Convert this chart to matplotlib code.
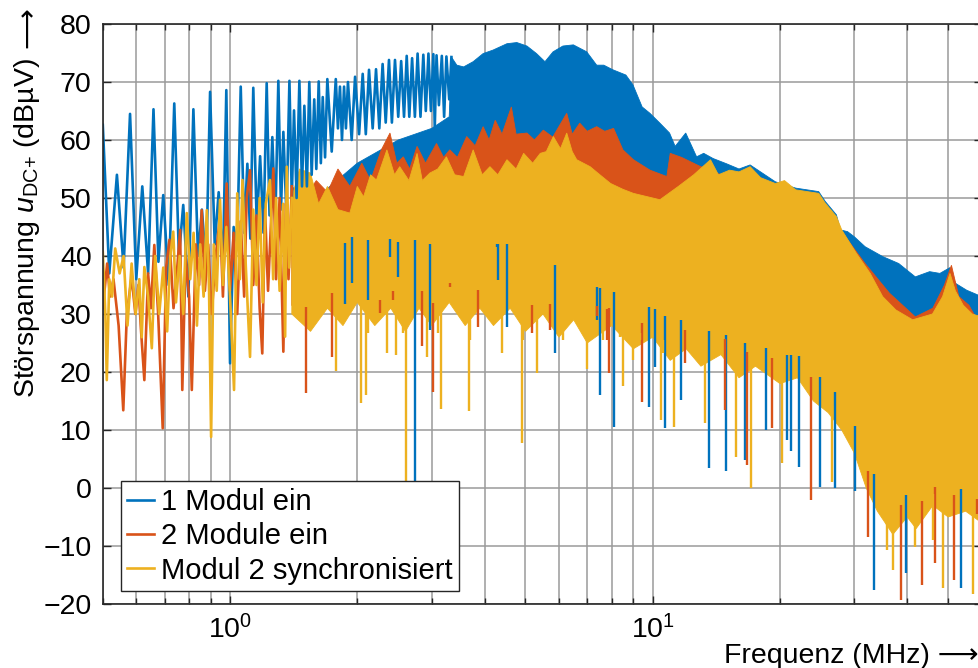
import numpy as np
import matplotlib.pyplot as plt
from matplotlib.ticker import LogLocator, NullFormatter

plt.rcParams['font.family'] = ['Liberation Sans', 'DejaVu Sans']
plt.rcParams['mathtext.fontset'] = 'custom'
plt.rcParams['mathtext.rm'] = 'Liberation Sans'
plt.rcParams['mathtext.it'] = 'Liberation Sans:italic'
plt.rcParams['mathtext.bf'] = 'Liberation Sans:bold'

labels = ['1 Modul ein', '2 Module ein', 'Modul 2 synchronisiert']
colors = ['#0072BD', '#D95319', '#EDB120']

# ---- low frequency part: single peaks and troughs (MHz, dBuV)
f_blue_low = [0.500, 0.518, 0.540, 0.560, 0.580, 0.600, 0.620, 0.640, 0.659, 0.677,
              0.695, 0.716, 0.738, 0.757, 0.775, 0.797, 0.819, 0.840, 0.858, 0.878,
              0.897, 0.920, 0.940, 0.962, 0.980, 1.000, 1.020, 1.040, 1.060, 1.080,
              1.099, 1.117, 1.135, 1.157, 1.178, 1.200, 1.221, 1.240, 1.259, 1.280,
              1.301, 1.320, 1.337, 1.360, 1.382, 1.400, 1.417, 1.437, 1.459, 1.480,
              1.499, 1.520, 1.540, 1.560, 1.582, 1.600, 1.621, 1.640, 1.657, 1.678,
              1.699, 1.740, 1.779, 1.800, 1.820, 1.840, 1.861, 1.880, 1.901, 1.940,
              1.976, 2.020, 2.060, 2.095, 2.132, 2.175, 2.215, 2.255, 2.296, 2.335,
              2.377, 2.415, 2.456, 2.500, 2.540, 2.580, 2.618, 2.655, 2.696, 2.737,
              2.778, 2.822, 2.866, 2.905, 2.947, 2.987, 3.027, 3.050, 3.080, 3.120,
              3.170, 3.210, 3.250, 3.300, 3.340]
u_blue_low = [62.6, 37.0, 54.0, 38.0, 64.5, 36.0, 52.0, 37.0, 65.3, 39.0,
              50.5, 35.0, 66.3, 40.0, 48.8, 33.0, 65.3, 40.0, 48.0, 38.0,
              68.3, 42.0, 51.0, 38.0, 68.6, 21.5, 45.0, 42.0, 69.2, 44.0,
              55.9, 43.0, 69.0, 45.0, 57.2, 44.0, 69.8, 47.0, 60.5, 46.0,
              70.2, 48.0, 61.4, 47.0, 70.2, 50.0, 65.1, 50.0, 70.2, 52.0,
              65.9, 52.0, 70.0, 54.0, 67.0, 55.0, 70.1, 56.0, 67.4, 57.0,
              70.5, 58.0, 70.5, 62.0, 69.2, 60.0, 69.2, 62.0, 70.0, 60.0,
              70.9, 61.0, 71.4, 61.0, 72.1, 62.0, 72.2, 62.0, 73.1, 63.0,
              73.8, 63.0, 73.8, 64.0, 73.6, 64.0, 74.5, 64.0, 74.1, 64.0,
              74.9, 64.0, 74.7, 65.0, 74.9, 65.0, 74.8, 62.0, 74.6, 66.0,
              74.5, 64.0, 74.4, 67.0, 74.3]

f_red_low = [0.500, 0.512, 0.520, 0.530, 0.545, 0.559, 0.570, 0.585, 0.597, 0.607,
             0.616, 0.627, 0.640, 0.650, 0.662, 0.676, 0.693, 0.706, 0.719, 0.735,
             0.750, 0.762, 0.771, 0.785, 0.800, 0.812, 0.830, 0.845, 0.857, 0.872,
             0.888, 0.905, 0.925, 0.947, 0.962, 0.982, 1.000, 1.020, 1.040, 1.060,
             1.080, 1.095, 1.115, 1.135, 1.155, 1.175, 1.192, 1.210, 1.230, 1.266,
             1.285, 1.310, 1.337, 1.355, 1.375, 1.400]
u_red_low = [31.0, 38.7, 33.0, 36.0, 28.0, 13.4, 30.0, 36.4, 30.0, 35.0,
             27.0, 18.6, 37.0, 31.0, 41.9, 30.0, 10.3, 38.0, 42.8, 31.0,
             38.0, 44.5, 16.9, 40.0, 33.0, 16.9, 42.0, 35.0, 47.9, 34.0,
             42.0, 30.0, 40.0, 46.8, 33.0, 52.5, 34.0, 44.0, 30.0, 46.0,
             33.0, 50.0, 54.8, 35.0, 47.0, 31.0, 23.2, 48.0, 34.0, 55.1,
             36.0, 50.0, 23.5, 49.0, 36.0, 52.0]

f_yel_low = [0.500, 0.507, 0.511, 0.518, 0.526, 0.535, 0.548, 0.560, 0.572, 0.585,
             0.598, 0.610, 0.618, 0.627, 0.640, 0.653, 0.665, 0.680, 0.695, 0.710,
             0.722, 0.734, 0.745, 0.760, 0.775, 0.790, 0.805, 0.820, 0.835, 0.850,
             0.866, 0.881, 0.892, 0.902, 0.915, 0.930, 0.947, 0.962, 0.980, 1.000,
             1.022, 1.040, 1.055, 1.070, 1.090, 1.115, 1.135, 1.155, 1.175, 1.195,
             1.215, 1.243, 1.265, 1.285, 1.310, 1.335, 1.350, 1.362, 1.380, 1.400]
u_yel_low = [40.7, 30.0, 18.6, 36.0, 33.0, 41.3, 37.0, 40.0, 28.0, 38.7,
             30.0, 36.0, 26.0, 38.1, 33.0, 24.1, 40.0, 30.0, 38.0, 27.0,
             40.0, 44.2, 32.0, 40.0, 30.0, 47.4, 36.0, 44.0, 28.0, 42.0,
             33.0, 47.9, 34.0, 8.8, 42.0, 34.0, 49.7, 35.0, 45.0, 33.0,
             16.9, 50.8, 36.0, 53.1, 38.0, 22.6, 48.0, 35.0, 50.0, 32.0,
             49.0, 53.1, 36.0, 50.0, 34.0, 49.0, 26.1, 55.4, 38.0, 50.0]

# ---- dense part: upper edge of the filled band
f_blue_top = [1.60, 2.00, 2.50, 3.00, 3.30, 3.34, 3.44, 3.57, 3.76, 3.97,
              4.19, 4.52, 4.77, 5.04, 5.31, 5.56, 5.81, 6.13, 6.49, 6.98,
              7.37, 7.66, 8.05, 8.64, 8.98, 9.44, 9.85, 10.4, 10.96, 11.3,
              11.97, 12.7, 13.2, 13.9, 14.95, 16.0, 17.0, 19.5, 21.8, 24.7,
              25.6, 27.2, 27.8, 28.9, 30.0, 31.8, 35.0, 38.2, 41.8, 45.2,
              47.8, 50.5, 52.0, 55.3, 57.4, 60.0]
u_blue_top = [50.0, 56.0, 60.0, 62.0, 64.0, 74.3, 72.9, 72.6, 73.5, 74.9,
              75.5, 76.6, 76.8, 76.2, 74.9, 73.5, 75.2, 76.2, 76.4, 75.2,
              72.9, 72.9, 72.1, 71.2, 69.5, 65.7, 64.6, 62.9, 61.2, 58.9,
              61.2, 57.1, 57.7, 56.8, 55.9, 55.0, 55.7, 52.8, 51.7, 51.1,
              49.4, 47.1, 44.5, 44.2, 43.3, 41.6, 39.9, 38.7, 36.4, 37.3,
              37.0, 38.0, 35.3, 34.1, 33.6, 33.0]

f_red_top = [1.40, 1.50, 1.60, 1.70, 1.80, 1.92, 2.05, 2.15, 2.28, 2.39,
             2.48, 2.57, 2.66, 2.77, 2.90, 3.08, 3.20, 3.31, 3.45, 3.63,
             3.80, 3.97, 4.10, 4.24, 4.40, 4.63, 4.75, 5.04, 5.25, 5.51,
             5.80, 6.26, 6.45, 6.72, 7.00, 7.37, 7.70, 8.08, 8.50, 9.00,
             9.85, 10.8, 11.0, 11.7, 12.9, 14.5, 16.0, 20.0, 24.0, 26.0,
             27.5, 28.9, 31.8, 36.3, 41.8, 46.0, 49.0, 50.9, 53.0, 56.0,
             58.0, 60.0]
u_red_top = [52.0, 50.0, 53.0, 51.0, 55.0, 52.0, 56.0, 53.0, 58.3, 61.2,
             56.0, 57.1, 55.0, 58.9, 56.0, 59.4, 57.0, 58.3, 57.0, 60.6,
             59.0, 62.3, 60.0, 63.4, 61.0, 65.7, 61.0, 61.2, 60.0, 61.7,
             60.5, 64.6, 61.0, 62.9, 61.5, 62.3, 61.5, 62.0, 58.3, 56.6,
             54.8, 53.7, 57.7, 57.0, 55.5, 54.0, 54.0, 52.0, 50.0, 48.0,
             45.0, 42.8, 38.7, 33.6, 29.5, 31.0, 35.0, 38.4, 33.0, 31.5,
             29.5, 30.0]

f_yel_top = [1.40, 1.46, 1.55, 1.62, 1.70, 1.80, 1.92, 2.00, 2.07, 2.15,
             2.22, 2.35, 2.45, 2.52, 2.65, 2.77, 2.85, 2.97, 3.10, 3.25,
             3.40, 3.57, 3.76, 3.95, 4.12, 4.30, 4.52, 4.75, 4.95, 5.20,
             5.42, 5.60, 5.82, 6.05, 6.26, 6.45, 6.61, 7.11, 7.50, 7.95,
             8.50, 9.00, 10.4, 11.5, 12.5, 13.7, 14.3, 15.2, 16.0, 17.0,
             18.0, 19.5, 20.5, 21.8, 24.7, 25.6, 27.2, 28.0, 30.3, 32.7,
             35.0, 37.6, 41.2, 45.9, 48.5, 50.5, 52.0, 54.3, 57.0, 60.0]
u_yel_top = [50.0, 55.0, 54.3, 49.0, 52.0, 48.0, 47.4, 52.0, 50.2, 54.0,
             53.1, 58.3, 54.0, 55.4, 53.0, 57.7, 53.0, 54.3, 55.0, 57.1,
             54.0, 53.7, 58.3, 54.0, 55.4, 54.0, 56.6, 55.0, 57.7, 56.0,
             57.7, 58.0, 60.6, 58.5, 61.2, 58.0, 56.6, 55.4, 54.0, 52.5,
             51.5, 50.8, 49.7, 52.0, 54.0, 56.6, 54.0, 54.8, 54.5, 55.4,
             53.5, 52.5, 53.0, 51.4, 50.8, 49.1, 46.8, 44.5, 40.5, 37.0,
             33.0, 30.7, 29.0, 30.0, 33.0, 37.0, 34.0, 31.5, 30.0, 29.5]

# ---- dense part: lower edge of the filled band (same frequency grid for all three)
f_bot = [1.40, 1.55, 1.70, 1.85, 2.00, 2.20, 2.40, 2.60, 2.80, 3.00,
         3.30, 3.60, 3.90, 4.20, 4.60, 5.00, 5.50, 6.00, 6.50, 7.00,
         8.00, 9.00, 10.0, 11.0, 12.0, 13.0, 14.5, 16.0, 17.5, 20.0,
         22.0, 24.0, 26.0, 28.0, 30.0, 32.0, 34.0, 37.0, 40.0, 42.0,
         46.0, 50.0, 55.0, 60.0]
u_blue_bot = [40.0, 40.0, 42.0, 40.0, 42.0, 40.0, 41.0, 40.0, 41.0, 40.0,
              41.0, 40.0, 41.0, 40.0, 40.0, 39.0, 38.0, 36.0, 35.0, 33.0,
              32.0, 30.0, 29.0, 27.0, 27.0, 25.0, 25.0, 23.0, 23.0, 21.0,
              21.0, 18.0, 16.0, 13.0, 9.0, 3.0, -1.0, -5.0, -3.0, -5.0,
              -1.0, -3.0, -2.0, -4.0]
u_red_bot = [31.5, 28.5, 32.5, 29.5, 33.5, 29.5, 32.5, 28.5, 32.5, 29.5,
             33.5, 29.5, 32.5, 29.5, 32.5, 28.5, 31.5, 27.5, 30.5, 26.5,
             29.5, 25.5, 27.5, 23.5, 25.5, 22.5, 24.5, 20.5, 22.5, 19.5,
             20.5, 16.5, 14.5, 11.5, 7.5, 1.5, -2.5, -6.5, -3.5, -5.5,
             -1.5, -3.5, -2.5, -4.5]
u_yel_bot = [30.0, 27.0, 31.0, 28.0, 32.0, 28.0, 31.0, 27.0, 31.0, 28.0,
             32.0, 28.0, 31.0, 28.0, 31.0, 27.0, 30.0, 26.0, 29.0, 25.0,
             28.0, 24.0, 26.0, 22.0, 24.0, 21.0, 23.0, 19.0, 21.0, 18.0,
             19.0, 15.0, 13.0, 10.0, 6.0, 0.0, -4.0, -8.0, -5.0, -7.0,
             -3.0, -5.0, -4.0, -6.0]

# ---- single dips reaching below the band
f_blue_dip = [1.87, 1.94, 2.12, 2.39, 2.50, 2.74, 2.97, 4.27, 4.31, 4.52,
              5.87, 7.37, 7.50, 8.10, 9.81, 10.1, 10.7, 11.65, 13.6, 14.9,
              16.5, 18.5, 20.8, 21.2, 22.2, 24.9, 27.0, 30.1, 33.3, 39.7,
              53.7, 59.4]
u_blue_dip = [31.8, 35.3, 32.4, 39.9, 36.4, 1.0, 27.2, 41.6, 35.9, 27.8,
              23.2, 29.0, 16.0, 10.6, 14.0, 20.9, 10.3, 15.2, 3.5, 3.0,
              4.8, 10.0, 8.3, 6.3, 3.7, 0.2, 0.0, -0.6, -17.6, -14.7,
              -17.3, -17.0]

f_red_dip = [1.513, 1.745, 2.26, 2.43, 2.84, 3.026, 3.31, 3.86, 5.17, 5.71,
             7.37, 7.78, 7.86, 9.42, 11.9, 14.8, 16.7, 19.2, 23.7, 32.3,
             38.6, 43.3, 46.5, 51.5, 58.5]
u_red_dip = [16.3, 22.6, 30.1, 32.4, 24.4, 16.6, 34.7, 27.8, 26.7, 27.2,
             31.3, 25.5, 19.8, 14.9, 21.6, 13.4, 4.0, 10.3, -2.1, -8.4,
             -19.3, -16.7, -13.0, -15.9, -4.4]

f_yel_dip = [1.779, 2.03, 2.041, 2.095, 2.124, 2.35, 2.467, 2.57, 2.615, 2.92,
             3.11, 3.157, 3.44, 3.667, 3.70, 4.39, 4.902, 4.94, 5.32, 6.14,
             6.85, 6.98, 7.64, 8.36, 8.50, 9.00, 9.32, 10.48, 10.6, 11.24,
             13.3, 15.7, 17.1, 20.2, 26.6, 35.9, 37.1, 41.8, 46.0, 48.6,
             57.1]
u_yel_dip = [20.1, 34.7, 14.6, 16.0, 26.7, 23.2, 22.9, 26.7, 1.2, 22.6,
             26.7, 13.6, 31.3, 13.2, 25.5, 23.2, 7.7, 25.5, 19.8, 25.5,
             27.8, 20.6, 25.5, 26.1, 17.5, 22.1, 25.5, 11.7, 23.2, 10.6,
             11.2, 5.4, 0.0, 4.3, 1.1, -10.7, -14.1, -10.1, -9.0, -17.3,
             -18.2]

series = [
    (f_blue_low, u_blue_low, f_blue_top, u_blue_top, u_blue_bot, f_blue_dip, u_blue_dip),
    (f_red_low, u_red_low, f_red_top, u_red_top, u_red_bot, f_red_dip, u_red_dip),
    (f_yel_low, u_yel_low, f_yel_top, u_yel_top, u_yel_bot, f_yel_dip, u_yel_dip),
]

fig = plt.figure(figsize=(9.79, 6.68), dpi=100)
ax = fig.add_axes([0.105, 0.0958, 0.8977, 0.8683])

fb = np.array(f_bot)
for (fl, ul, ft, ut, ub, fd, ud), c, lab in zip(series, colors, labels):
    ax.plot(fl, ul, color=c, lw=1.9, label=lab)
    # band only where the top edge is defined
    keep = (fb >= ft[0]) & (fb <= ft[-1])
    ax.fill(np.r_[ft, fb[keep][::-1]], np.r_[ut, np.array(ub)[keep][::-1]],
            color=c, ec=c, lw=0.6)
    # dips start inside the band
    start = np.interp(np.log10(fd), np.log10(fb), ub) + 2
    ax.vlines(fd, ud, start, color=c, lw=1.7)

ax.set_xscale('log')
ax.set_xlim(0.5, 60)
ax.set_ylim(-20, 80)
ax.set_yticks(np.arange(-20, 81, 10))
ax.xaxis.set_minor_locator(LogLocator(base=10, subs=np.arange(2, 10)))
ax.xaxis.set_minor_formatter(NullFormatter())

ax.set_axisbelow(True)
ax.grid(True, which='both', color='#9a9a9a', lw=1.1)
ax.tick_params(which='both', direction='in', top=True, right=True,
               labelsize=20.5, color='#262626', width=1.0)
ax.tick_params(which='major', length=6, pad=8)
ax.tick_params(which='minor', length=4)
for s in ax.spines.values():
    s.set_color('#262626')
    s.set_linewidth(1.2)

leg = ax.legend(loc='lower left', bbox_to_anchor=(0.0207, 0.0224), borderaxespad=0,
                fontsize=21, handlelength=0.9, handletextpad=0.25, borderpad=0.22,
                labelspacing=0.22, fancybox=False, framealpha=1, edgecolor='#262626')
leg.get_frame().set_linewidth(1.0)

fig.text(0.028, 0.659, 'Störspannung $u_{\\mathrm{DC{+}}}$ (dBµV)', rotation=90,
         ha='center', va='center', fontsize=20.5)
fig.text(0.028, 0.958, '\u27f6', rotation=90, ha='center', va='center',
         fontsize=20.5, family='DejaVu Sans')
fig.text(1.0, 0.0075, 'Frequenz (MHz) \u27f6', ha='right', va='baseline', fontsize=20.5)

fig.savefig('out.png', dpi=100)
